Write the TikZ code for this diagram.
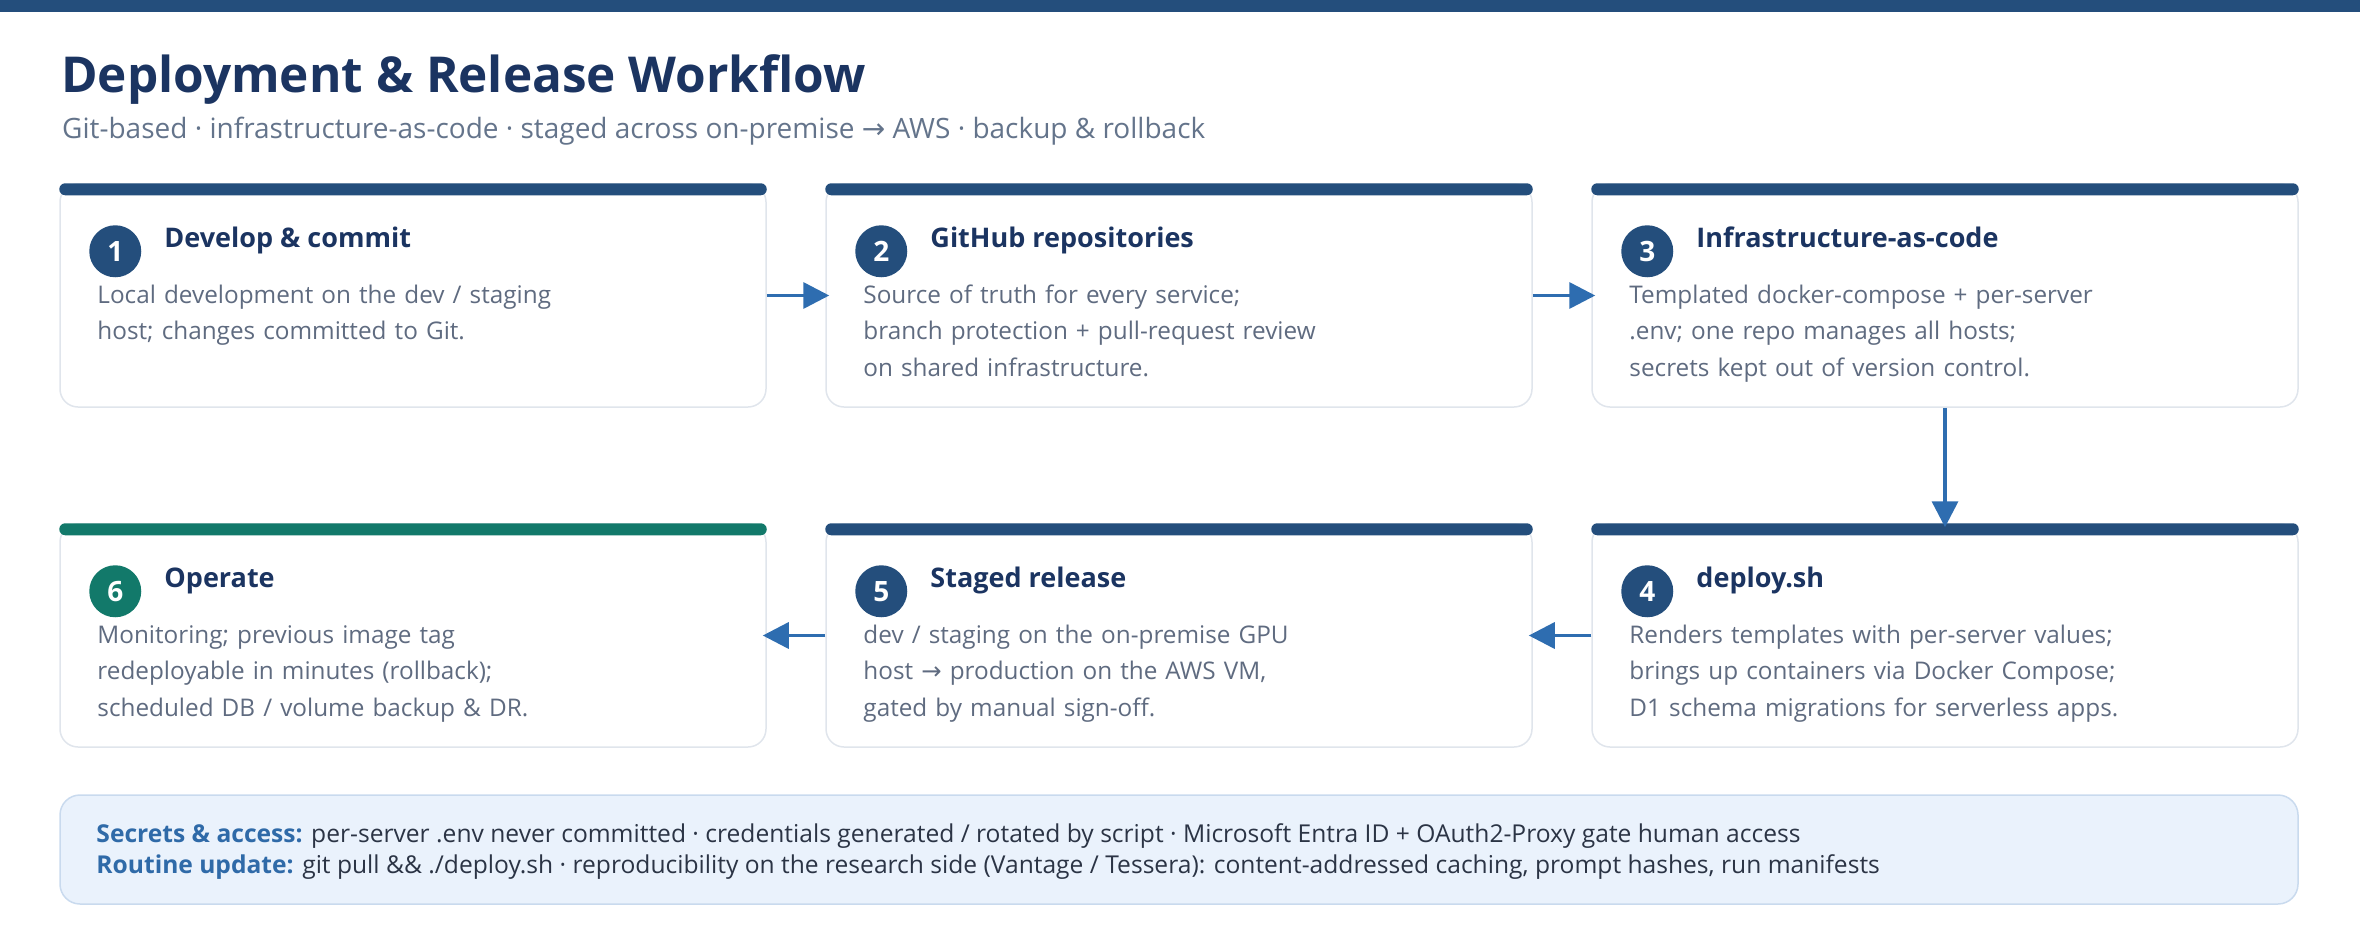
\documentclass[tikz,border=0pt]{standalone}
\usepackage{fontspec}
\setmainfont{Open Sans}[BoldFont={Open Sans Bold}]
\newfontfamily\symboles{DejaVu Sans}
\usetikzlibrary{arrows.meta,calc,positioning}
\definecolor{bleu}{HTML}{244E7C}
\definecolor{marine}{HTML}{1B3461}
\definecolor{sarcelle}{HTML}{12796A}
\definecolor{bleufleche}{HTML}{2E6DB0}
\definecolor{ardoise}{HTML}{64748B}
\definecolor{gristexte}{HTML}{5F6B80}
\definecolor{bordure}{HTML}{E0E5EC}
\definecolor{fondencart}{HTML}{EAF2FC}
\definecolor{bordencart}{HTML}{C9DAEE}
\definecolor{libelle}{HTML}{2F6AA8}
\definecolor{encre}{HTML}{2B3445}
\begin{document}
\begin{tikzpicture}[x=1pt,y=-1pt]
	% Styles
	\tikzstyle{carte}=[draw=bordure,line width=1.5pt,fill=white,rounded corners=18pt,minimum width={\LargeurCarte pt},minimum height={\HauteurCarte pt},inner sep=0pt]
	\tikzstyle{bandeau}=[fill=bleu,rounded corners=6pt]
	\tikzstyle{pastille}=[circle,fill=bleu,text=white,minimum size=52pt,inner sep=0pt,font=\bfseries\fontsize{28}{28}\selectfont]
	\tikzstyle{titrecarte}=[anchor=base west,inner sep=0pt,text=marine,font=\bfseries\fontsize{27}{30}\selectfont]
	\tikzstyle{texte}=[anchor=base west,inner sep=0pt,text=gristexte,align=left,text width=660pt,font=\fontsize{24.3}{36.5}\selectfont]
	\tikzstyle{fleche}=[-{Triangle[length=26pt,width=26pt]},line width=3.5pt,draw=bleufleche,shorten >=-4pt]
	\tikzstyle{encart}=[draw=bordencart,line width=1.5pt,fill=fondencart,rounded corners=20pt,minimum width=2238pt,minimum height=109pt,inner sep=0pt]
	\tikzstyle{ligneencart}=[anchor=base west,inner sep=0pt,text=encre,font=\fontsize{24.6}{30}\selectfont]
	% Dimensions
	\def\LargeurCarte{706}
	\def\HauteurCarte{223}
	\def\EcartCartes{60}
	\def\MargeGauche{60}
	\def\HautCartes{184}
	\def\EcartLignes{340}
	% Dimensions calculees
	\def\ColonneA{(\MargeGauche+0.5*\LargeurCarte)}
	\def\ColonneB{(\MargeGauche+1.5*\LargeurCarte+\EcartCartes)}
	\def\ColonneC{(\MargeGauche+2.5*\LargeurCarte+2*\EcartCartes)}
	\def\LigneA{(\HautCartes+0.5*\HauteurCarte)}
	\def\LigneB{(\HautCartes+0.5*\HauteurCarte+\EcartLignes)}
	% Cadre
	\useasboundingbox (0,0) rectangle (2360,940);
	\fill[bleu] (0,0) rectangle (2360,12);
	\node[anchor=base west,inner sep=0pt,text=marine,font=\bfseries\fontsize{49.5}{56}\selectfont] (titre) at (61,92) {Deployment \& Release Workflow};
	\node[anchor=base west,inner sep=0pt,text=ardoise,font=\fontsize{28}{30}\selectfont] (soustitre) at (62,138) {Git-based · infrastructure-as-code · staged across on-premise {\symboles →} AWS · backup \& rollback};
	% Cartes
	\node[carte] (C1) at ({\ColonneA},{\LigneA}) {};
	\node[carte] (C2) at ({\ColonneB},{\LigneA}) {};
	\node[carte] (C3) at ({\ColonneC},{\LigneA}) {};
	\node[carte] (C4) at ({\ColonneC},{\LigneB}) {};
	\node[carte] (C5) at ({\ColonneB},{\LigneB}) {};
	\node[carte] (C6) at ({\ColonneA},{\LigneB}) {};
	\fill[bandeau] (C1.north west) rectangle ($(C1.north east)+(0,12)$);
	\fill[bandeau] (C2.north west) rectangle ($(C2.north east)+(0,12)$);
	\fill[bandeau] (C3.north west) rectangle ($(C3.north east)+(0,12)$);
	\fill[bandeau] (C4.north west) rectangle ($(C4.north east)+(0,12)$);
	\fill[bandeau] (C5.north west) rectangle ($(C5.north east)+(0,12)$);
	\fill[bandeau,fill=sarcelle] (C6.north west) rectangle ($(C6.north east)+(0,12)$);
	% Contenu des cartes
	\node[pastille] (P1) at ($(C1.north west)+(56,68)$) {1};
	\node[titrecarte] (T1) at ($(C1.north west)+(105,64)$) {Develop \& commit};
	\node[texte] (X1) at ($(C1.north west)+(38,120)$) {Local development on the dev / staging\\host; changes committed to Git.};
	%
	\node[pastille] (P2) at ($(C2.north west)+(56,68)$) {2};
	\node[titrecarte] (T2) at ($(C2.north west)+(105,64)$) {GitHub repositories};
	\node[texte] (X2) at ($(C2.north west)+(38,120)$) {Source of truth for every service;\\branch protection + pull-request review\\on shared infrastructure.};
	%
	\node[pastille] (P3) at ($(C3.north west)+(56,68)$) {3};
	\node[titrecarte] (T3) at ($(C3.north west)+(105,64)$) {Infrastructure-as-code};
	\node[texte] (X3) at ($(C3.north west)+(38,120)$) {Templated docker-compose + per-server\\.env; one repo manages all hosts;\\secrets kept out of version control.};
	%
	\node[pastille] (P4) at ($(C4.north west)+(56,68)$) {4};
	\node[titrecarte] (T4) at ($(C4.north west)+(105,64)$) {deploy.sh};
	\node[texte] (X4) at ($(C4.north west)+(38,120)$) {Renders templates with per-server values;\\brings up containers via Docker Compose;\\D1 schema migrations for serverless apps.};
	%
	\node[pastille] (P5) at ($(C5.north west)+(56,68)$) {5};
	\node[titrecarte] (T5) at ($(C5.north west)+(105,64)$) {Staged release};
	\node[texte] (X5) at ($(C5.north west)+(38,120)$) {dev / staging on the on-premise GPU\\host {\symboles →} production on the AWS VM,\\gated by manual sign-off.};
	%
	\node[pastille,fill=sarcelle] (P6) at ($(C6.north west)+(56,68)$) {6};
	\node[titrecarte] (T6) at ($(C6.north west)+(105,64)$) {Operate};
	\node[texte] (X6) at ($(C6.north west)+(38,120)$) {Monitoring; previous image tag\\redeployable in minutes (rollback);\\scheduled DB / volume backup \& DR.};
	% Fleches
	\draw[fleche] (C1.east)--(C2.west);
	\draw[fleche] (C2.east)--(C3.west);
	\draw[fleche] (C3.south)--(C4.north);
	\draw[fleche] (C4.west)--(C5.east);
	\draw[fleche] (C5.west)--(C6.east);
	% Encart
	\node[encart] (E) at (1179,849.5) {};
	\node[ligneencart] (E1) at ($(E.north west)+(37,48)$) {\textcolor{libelle}{\bfseries Secrets \& access:} per-server .env never committed · credentials generated / rotated by script · Microsoft Entra ID + OAuth2-Proxy gate human access};
	\node[ligneencart] (E2) at ($(E.north west)+(37,79)$) {\textcolor{libelle}{\bfseries Routine update:} git pull \&\& ./deploy.sh · reproducibility on the research side (Vantage / Tessera): content-addressed caching, prompt hashes, run manifests};
\end{tikzpicture}
\end{document}
